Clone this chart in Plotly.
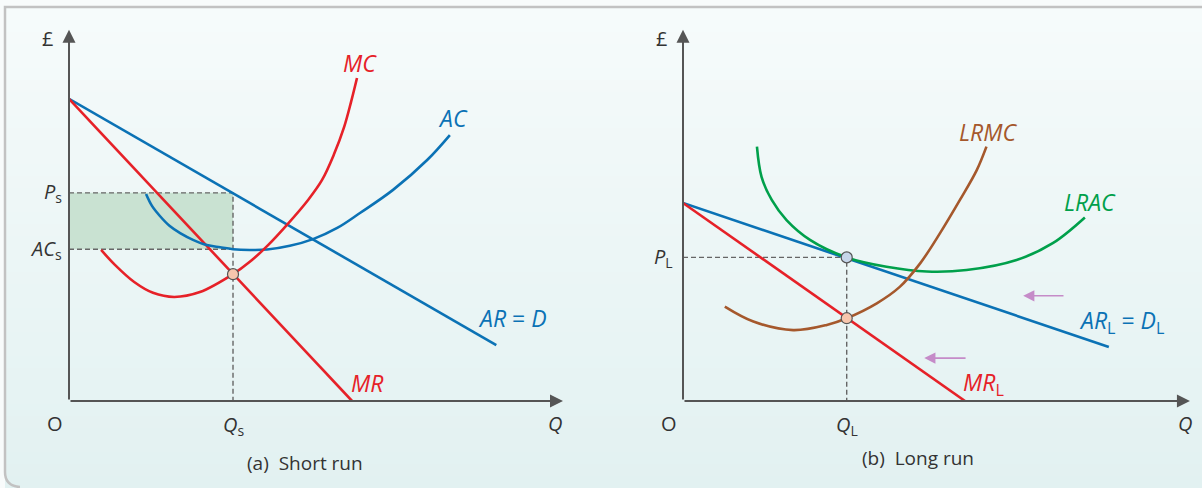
import plotly.graph_objects as go

# ---------------------------------------------------------------
# data (both panels: Q on x from 0 to 10, £ on y from 0 to 10)
# ---------------------------------------------------------------
# (a) short run
ar_q = [0, 8.65]
ar_p = [8.1, 1.5]
mr_q = [0, 5.73]
mr_p = [8.1, 0]
mc_q = [0.65, 0.93, 1.32, 1.7, 2.13, 2.65, 3.32, 3.66, 4.03, 4.43, 4.84, 5.12, 5.36,
        5.57, 5.71, 5.83]
mc_p = [4.05, 3.65, 3.19, 2.9, 2.79, 2.92, 3.4, 3.73, 4.18, 4.75, 5.39, 5.92, 6.6,
        7.35, 8.02, 8.66]
ac_q = [1.56, 1.68, 1.84, 2.04, 2.25, 2.51, 2.79, 3.06, 3.32, 3.66, 4.01, 4.47, 4.94,
        5.43, 5.89, 6.56, 7.25, 7.71]
ac_p = [5.55, 5.23, 4.96, 4.69, 4.5, 4.32, 4.18, 4.12, 4.07, 4.05, 4.06, 4.16, 4.34,
        4.64, 5.04, 5.66, 6.46, 7.13]
q_s = 3.32
p_s = 5.58
ac_s = 4.07
mr_s = 3.4

# (b) long run
arl_q = [0, 8.35]
arl_p = [5.31, 1.45]
mrl_q = [0, 5.53]
mrl_p = [5.31, 0]
lrac_q = [1.45, 1.54, 1.74, 2.03, 2.49, 3.21, 3.99, 4.78, 5.56, 6.54, 7.25, 7.88]
lrac_p = [6.82, 6.01, 5.39, 4.85, 4.32, 3.85, 3.6, 3.47, 3.51, 3.78, 4.23, 4.92]
lrmc_q = [0.82, 1.38, 2.16, 2.82, 3.21, 3.8, 4.25, 4.65, 5.04, 5.43, 5.76, 5.95]
lrmc_p = [2.53, 2.13, 1.9, 2.04, 2.22, 2.62, 3.06, 3.69, 4.5, 5.39, 6.19, 6.82]
q_l = 3.21
p_l = 3.85
mr_l = 2.22
shift_from_q = [7.49, 5.57]
shift_to_q = [6.67, 4.73]
shift_p = [2.82, 1.15]

# ---------------------------------------------------------------
# styles
# ---------------------------------------------------------------
RED = "#e62128"
BLUE = "#0b72b5"
GREEN = "#00a04b"
BROWN = "#a5582c"
AXIS = "#555555"
DASH = "#666666"
TXT = "#333333"
SHADE = "#c9e2d2"
PEACH = "#f7c6ad"
PALEBLUE = "#c6d6ea"
PURPLE = "#c58bc8"
FONT = "Open Sans"
W, H = 1202, 488
LW = 2.6

fig = go.Figure()


def curve(q, p, color, xa, ya, smooth=True):
    fig.add_trace(go.Scatter(
        x=q, y=p, mode="lines", xaxis=xa, yaxis=ya,
        line=dict(color=color, width=LW, shape="spline" if smooth else "linear",
                  smoothing=1.0),
        hoverinfo="skip", showlegend=False))


def dashed(q, p, xa, ya):
    fig.add_trace(go.Scatter(
        x=q, y=p, mode="lines", xaxis=xa, yaxis=ya,
        line=dict(color=DASH, width=1.4, dash="5px,3px"),
        hoverinfo="skip", showlegend=False))


def point(q, p, fill, xa, ya):
    fig.add_trace(go.Scatter(
        x=[q], y=[p], mode="markers", xaxis=xa, yaxis=ya,
        marker=dict(size=11, color=fill, line=dict(color="#555555", width=1.2)),
        hoverinfo="skip", showlegend=False))


# --- panel (a)
fig.add_trace(go.Scatter(
    x=[0, q_s, q_s, 0, 0], y=[p_s, p_s, ac_s, ac_s, p_s], mode="lines",
    fill="toself", fillcolor=SHADE, line=dict(width=0),
    xaxis="x", yaxis="y", hoverinfo="skip", showlegend=False))
dashed([0, q_s, q_s], [p_s, p_s, 0], "x", "y")
dashed([0, q_s], [ac_s, ac_s], "x", "y")
curve(ar_q, ar_p, BLUE, "x", "y", smooth=False)
curve(mr_q, mr_p, RED, "x", "y", smooth=False)
curve(ac_q, ac_p, BLUE, "x", "y")
curve(mc_q, mc_p, RED, "x", "y")
point(q_s, mr_s, PEACH, "x", "y")

# --- panel (b)
dashed([0, q_l, q_l], [p_l, p_l, 0], "x2", "y2")
curve(arl_q, arl_p, BLUE, "x2", "y2", smooth=False)
curve(mrl_q, mrl_p, RED, "x2", "y2", smooth=False)
curve(lrac_q, lrac_p, GREEN, "x2", "y2")
curve(lrmc_q, lrmc_p, BROWN, "x2", "y2")
point(q_l, p_l, PALEBLUE, "x2", "y2")
point(q_l, mr_l, PEACH, "x2", "y2")

ann = []


def label(x, y, text, color, xr, yr, size=23, xanchor="center", yanchor="middle",
          xshift=0, yshift=0):
    ann.append(dict(x=x, y=y, xref=xr, yref=yr, text=text, showarrow=False,
                    font=dict(family=FONT, size=size, color=color),
                    xanchor=xanchor, yanchor=yanchor, xshift=xshift, yshift=yshift))


def arrow(x0, y0, x1, y1, xr, yr, color, width=2, size=1.3):
    ann.append(dict(x=x1, y=y1, ax=x0, ay=y0, xref=xr, yref=yr, axref=xr, ayref=yr,
                    text="", showarrow=True, arrowhead=2, arrowsize=size,
                    arrowwidth=width, arrowcolor=color, standoff=0))


# axes with arrowheads
for xr, yr, xend in [("x", "y", 10), ("x2", "y2", 9.94)]:
    arrow(0, 0, xend, 0, xr, yr, AXIS)
    arrow(0, 0, 0, 9.95, xr, yr, AXIS)
    label(0, 9.73, "£", TXT, xr, yr, size=20, xshift=-22)
    label(0, 0, "O", TXT, xr, yr, size=20, xshift=-14, yshift=-22)

# panel (a) labels
label(q_s, 0, "<i>Q</i><sub>s</sub>", TXT, "x", "y", size=20, yshift=-24)
label(9.84, 0, "<i>Q</i>", TXT, "x", "y", size=20, yshift=-22)
label(0, p_s, "<i>P</i><sub>s</sub>", TXT, "x", "y", size=20, xanchor="right", xshift=-5)
label(0, ac_s, "<i>AC</i><sub>s</sub>", TXT, "x", "y", size=20, xanchor="right", xshift=-5)
label(5.89, 9.06, "<i>MC</i>", RED, "x", "y")
label(7.77, 7.59, "<i>AC</i>", BLUE, "x", "y")
label(8.97, 2.23, "<i>AR</i> = <i>D</i>", BLUE, "x", "y")
label(6.05, 0.48, "<i>MR</i>", RED, "x", "y")

# panel (b) labels
label(q_l, 0, "<i>Q</i><sub>L</sub>", TXT, "x2", "y2", size=20, yshift=-24)
label(9.84, 0, "<i>Q</i>", TXT, "x2", "y2", size=20, yshift=-22)
label(0, p_l, "<i>P</i><sub>L</sub>", TXT, "x2", "y2", size=20, xanchor="right", xshift=-8)
label(5.98, 7.21, "<i>LRMC</i>", BROWN, "x2", "y2")
label(7.98, 5.34, "<i>LRAC</i>", GREEN, "x2", "y2")
label(8.59, 2.12, "<i>AR</i><sub>L</sub> = <i>D</i><sub>L</sub>", BLUE, "x2", "y2")
label(5.9, 0.48, "<i>MR</i><sub>L</sub>", RED, "x2", "y2")
for q0, q1, p in zip(shift_from_q, shift_to_q, shift_p):
    arrow(q0, p, q1, p, "x2", "y2", PURPLE, width=1.6, size=1.4)

# captions
ann.append(dict(x=305 / W, y=1 - 463 / H, xref="paper", yref="paper",
                xanchor="center", yanchor="middle",
                text="(a)  Short run", showarrow=False,
                font=dict(family=FONT, size=19, color=TXT)))
ann.append(dict(x=918 / W, y=1 - 458 / H, xref="paper", yref="paper",
                xanchor="center", yanchor="middle",
                text="(b)  Long run", showarrow=False,
                font=dict(family=FONT, size=19, color=TXT)))

# background gradient bands + frame
shapes = []
top, bottom = 8, H
n = 40
c0 = (246, 251, 251)
c1 = (226, 241, 241)
for i in range(n):
    t = i / (n - 1)
    col = "rgb(%d,%d,%d)" % tuple(round(a + (b - a) * t) for a, b in zip(c0, c1))
    y0 = top + (bottom - top) * i / n
    y1 = top + (bottom - top) * (i + 1) / n + 1
    shapes.append(dict(type="rect", xref="paper", yref="paper", layer="below",
                       x0=5 / W, x1=1, y0=1 - y1 / H, y1=1 - y0 / H,
                       fillcolor=col, line=dict(width=0)))
shapes.append(dict(type="path", xref="paper", yref="paper", layer="below",
                   path="M 1,%f L %f,%f L %f,%f Q %f,%f %f,%f" % (
                       1 - 7 / H, 5 / W, 1 - 7 / H, 5 / W, 1 - 472 / H,
                       5 / W, 1 - 486 / H, 20 / W, 1 - 487 / H),
                   line=dict(color="#c2c2c2", width=2.5)))

ax_common = dict(range=[0, 10], showgrid=False, zeroline=False, showline=False,
                 showticklabels=False, ticks="", fixedrange=True)
fig.update_layout(
    width=W, height=H,
    margin=dict(l=0, r=0, t=0, b=0),
    paper_bgcolor="#f8fbfb",
    plot_bgcolor="white",
    xaxis=dict(domain=[69 / W, 563 / W], anchor="y", **ax_common),
    yaxis=dict(domain=[1 - 401 / H, 1 - 28 / H], anchor="x", **ax_common),
    xaxis2=dict(domain=[683 / W, 1193 / W], anchor="y2", **ax_common),
    yaxis2=dict(domain=[1 - 401 / H, 1 - 28 / H], anchor="x2", **ax_common),
    annotations=ann,
    shapes=shapes,
    showlegend=False,
)

fig.write_html("out.html", config={"displayModeBar": False},
               post_script="document.body.style.margin='0';")
